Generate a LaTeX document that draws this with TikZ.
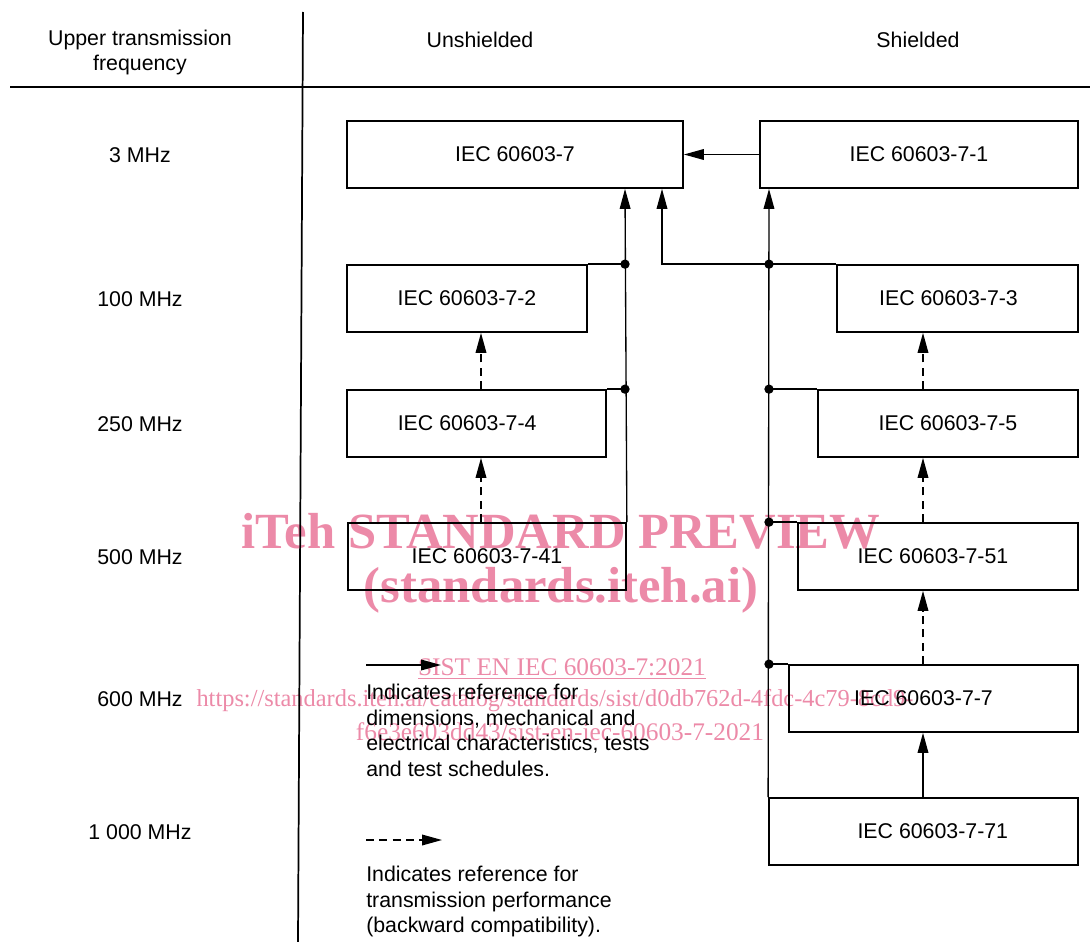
\documentclass[tikz,border=0pt]{standalone}
\usepackage{fontspec}
\setmainfont{Liberation Sans}
\newfontfamily\wmfont{Liberation Serif}
\usetikzlibrary{arrows.meta}
\definecolor{wm}{RGB}{236,138,168}
\begin{document}
\begin{tikzpicture}[x=0.75pt,y=-0.75pt,
  txt/.style={font=\fontsize{16}{19.2}\selectfont,inner sep=0pt},
  box/.style={draw,line width=1.3pt,minimum height=50.25pt,inner sep=0pt},
  conn/.style={line width=1pt},
  tip/.style={-{Triangle[length=15pt,width=8pt]}},
  dsh/.style={line width=1pt,dash pattern=on 6pt off 4pt},
  dot/.style={circle,fill=black,inner sep=0pt,minimum size=7pt},
  wmbig/.style={font=\wmfont\bfseries\fontsize{38}{40}\selectfont,text=wm,inner sep=0pt},
  wmsmall/.style={font=\wmfont\fontsize{19}{21}\selectfont,text=wm,inner sep=0pt}]
\useasboundingbox (0,0) rectangle (1090,942);

% watermark
\node[wmbig] (wm1) at (561,531) {iTeh STANDARD PREVIEW};
\node[wmbig] (wm2) at (561,590) {(standards.iteh.ai)};
\node[wmsmall] (wm3) at (562,669) {\underline{SIST EN IEC 60603-7:2021}};
\node[wmsmall,font=\wmfont\fontsize{18.3}{21}\selectfont] (wm4) at (555,701) {https://standards.iteh.ai/catalog/standards/sist/d0db762d-4fdc-4c79-8cd9-};
\node[wmsmall] (wm5) at (560,732) {f6e3e603dd43/sist-en-iec-60603-7-2021};

% table lines
\draw[line width=1.3pt] (303,12) -- (298,942);
\draw[line width=1.3pt] (10,87) -- (1090,87);

% headers
\node[txt,align=center] (h1) at (140,52.5) {Upper transmission\\frequency};
\node[txt] (h2) at (480,40) {Unshielded};
\node[txt] (h3) at (918,40) {Shielded};

% row labels
\node[txt] (r1) at (140,155) {3 MHz};
\node[txt] (r2) at (140,299) {100 MHz};
\node[txt] (r3) at (140,424) {250 MHz};
\node[txt] (r4) at (140,557) {500 MHz};
\node[txt] (r5) at (140,699) {600 MHz};
\node[txt] (r6) at (140,832) {1 000 MHz};

% boxes
\node[box,minimum width=252pt,label={[txt]center:IEC 60603-7}] (b7) at (515,154.5) {};
\node[box,minimum width=238.5pt,label={[txt]center:IEC 60603-7-1}] (b71) at (919,154.5) {};
\node[box,minimum width=180pt,label={[txt]center:IEC 60603-7-2}] (b72) at (467,298.5) {};
\node[box,minimum width=180.75pt,label={[txt,xshift=-6.75pt]center:IEC 60603-7-3}] (b73) at (957.5,298.5) {};
\node[box,minimum width=194.25pt,label={[txt,xshift=-7pt]center:IEC 60603-7-4}] (b74) at (476.5,423.5) {};
\node[box,minimum width=195pt,label={[txt]center:IEC 60603-7-5}] (b75) at (948,423.5) {};
\node[box,minimum width=208.5pt,label={[txt]center:IEC 60603-7-41}] (b741) at (487,556.5) {};
\node[box,minimum width=210pt,label={[txt,xshift=-3.75pt]center:IEC 60603-7-51}] (b751) at (938,556.5) {};
\node[box,minimum width=216.75pt,label={[txt,xshift=-7.5pt]center:IEC 60603-7-7}] (b77) at (933.5,698.5) {};
\node[box,minimum width=231.75pt,label={[txt,xshift=7pt]center:IEC 60603-7-71}] (b771) at (923.5,831.5) {};

% helper coordinates
\coordinate (xl) at (481,0);
\coordinate (xr) at (923,0);
\coordinate (xbl) at (625,0);
\coordinate (xm) at (662,0);
\coordinate (xbr) at (769,0);

% shielded -> unshielded
\draw[conn,tip] (b71.west) -- (b7.east);

% left bus
\draw[conn,tip] (b741.north east) -- (b7.south -| xbl);
\draw[conn] (b72.north east) -- (b72.north -| xbl) node[dot] (d1) {};
\draw[conn] (b74.north east) -- (b74.north -| xbl) node[dot] (d2) {};

% right bus
\draw[conn,tip] (b771.north west) -- (b71.south -| xbr);
\draw[conn,tip] (b73.north west) -- (b73.north -| xm) -- (b7.south -| xm);
\node[dot] (d3) at (b73.north -| xbr) {};
\draw[conn] (b75.north west) -- (b75.north -| xbr) node[dot] (d4) {};
\draw[conn] (b751.north west) -- (b751.north -| xbr) node[dot] (d5) {};
\draw[conn] (b77.north west) -- (b77.north -| xbr) node[dot] (d6) {};

% vertical refs
\draw[dsh,tip] (b74.north -| xl) -- (b72.south -| xl);
\draw[dsh,tip] (b741.north -| xl) -- (b74.south -| xl);
\draw[dsh,tip] (b75.north -| xr) -- (b73.south -| xr);
\draw[dsh,tip] (b751.north -| xr) -- (b75.south -| xr);
\draw[dsh,tip] (b77.north -| xr) -- (b751.south -| xr);
\draw[conn,tip] (b771.north -| xr) -- (b77.south -| xr);

% legend
\coordinate (la1) at (366,665);
\coordinate (la2) at (441,665);
\draw[conn,tip] (la1) -- (la2);
\node[txt,align=left,anchor=north west] (lt1) at (366,684) {Indicates reference for\\dimensions, mechanical and\\electrical characteristics, tests\\and test schedules.};
\coordinate (lb1) at (366,840);
\coordinate (lb2) at (442,840);
\draw[dsh,tip] (lb1) -- (lb2);
\node[txt,align=left,anchor=north west] (lt2) at (366,866) {Indicates reference for\\transmission performance\\(backward compatibility).};
\end{tikzpicture}
\end{document}
